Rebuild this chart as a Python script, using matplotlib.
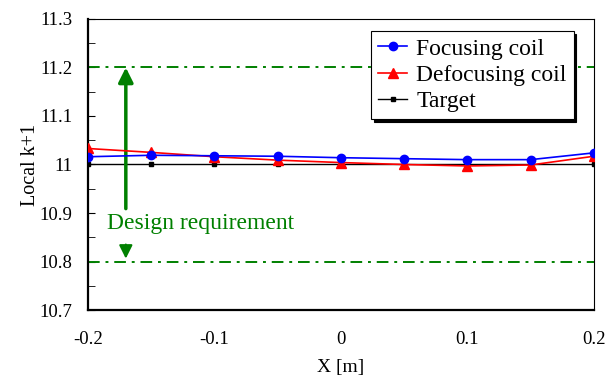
import matplotlib
matplotlib.use('Agg')
import matplotlib.pyplot as plt
from matplotlib.ticker import MultipleLocator

plt.rcParams['font.family'] = 'Liberation Serif'

x = [-0.2, -0.15, -0.1, -0.05, 0.0, 0.05, 0.1, 0.15, 0.2]
focusing = [11.016, 11.019, 11.018, 11.017, 11.014, 11.012, 11.010, 11.010, 11.024]
defocusing = [11.033, 11.025, 11.016, 11.009, 11.004, 11.000, 10.997, 10.999, 11.017]
target = [11.0] * 9

req_hi, req_lo = 11.2, 10.8
arrow_x = -0.17

fig = plt.figure(figsize=(6.06, 3.76), dpi=100)
ax = fig.add_axes([0.145, 0.1755, 0.835, 0.774])

ax.plot(x, target, color='black', marker='s', markersize=3.5, lw=1, label='Target', zorder=3)
ax.plot(x, defocusing, color='red', marker='^', markersize=7, lw=1.2, label='Defocusing coil', zorder=4)
ax.plot(x, focusing, color='blue', marker='o', markersize=6, lw=1.2, label='Focusing coil', zorder=5)

ax.axhline(req_hi, color='green', lw=1.4, ls=(0, (6, 3, 1.5, 3)))
ax.axhline(req_lo, color='green', lw=1.4, ls=(0, (6, 3, 1.5, 3)))

ax.annotate('', xy=(arrow_x, req_hi), xytext=(arrow_x, 10.909),
            arrowprops=dict(arrowstyle='-|>', mutation_scale=22, lw=2.5,
                            color='green', shrinkA=0, shrinkB=0))
ax.annotate('', xy=(arrow_x, 10.806), xytext=(arrow_x, 10.835),
            arrowprops=dict(arrowstyle='-|>', mutation_scale=20, lw=1.5,
                            color='green', shrinkA=0, shrinkB=0))
ax.text(-0.111, 10.878, 'Design requirement', color='green', fontsize=17,
        ha='center', va='center')

ax.set_xlim(-0.2, 0.2)
ax.set_ylim(10.7, 11.3)
ax.yaxis.set_minor_locator(MultipleLocator(0.05))
ax.set_xticks([-0.2, -0.1, 0, 0.1, 0.2])
ax.set_xticklabels(['-0.2', '-0.1', '0', '0.1', '0.2'])
ax.set_yticks([10.7, 10.8, 10.9, 11.0, 11.1, 11.2, 11.3])
ax.set_yticklabels(['10.7', '10.8', '10.9', '11', '11.1', '11.2', '11.3'])
ax.tick_params(axis='x', length=0, labelsize=13.5, pad=15)
ax.tick_params(axis='y', which='major', direction='in', length=5, labelsize=13.5, pad=11)
ax.tick_params(axis='y', which='minor', direction='in', length=5)

for s in ['left', 'bottom']:
    ax.spines[s].set_linewidth(1.6)
for s in ['top', 'right']:
    ax.spines[s].set_linewidth(0.8)

ax.set_xlabel('X [m]', fontsize=14, labelpad=8)
ax.set_ylabel('Local k+1', fontsize=14.5, labelpad=0)

h, l = ax.get_legend_handles_labels()
order = [2, 1, 0]
leg = ax.legend([h[i] for i in order], [l[i] for i in order], loc='upper right',
                bbox_to_anchor=(0.96, 0.959), borderaxespad=0, fontsize=17,
                handlelength=1.2, handletextpad=0.4, labelspacing=0.2, borderpad=0.3,
                fancybox=False, framealpha=1, edgecolor='black',
                shadow={'color': 'black', 'alpha': 1})
leg.get_frame().set_linewidth(0.8)

fig.savefig('out.png', dpi=100)
